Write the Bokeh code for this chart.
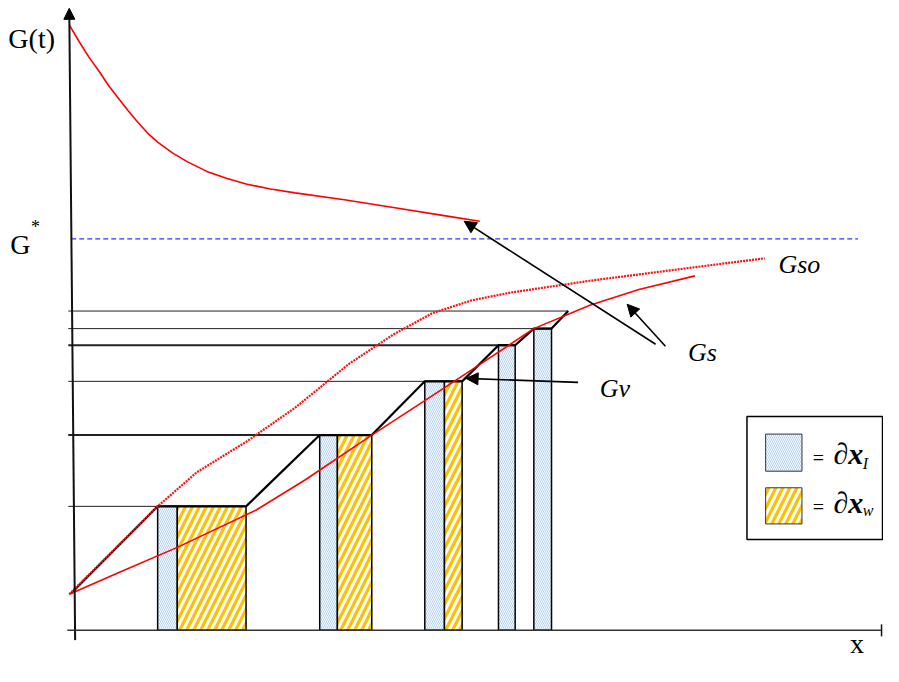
from bokeh.plotting import figure
from bokeh.models import Range1d, Arrow, NormalHead, TeeHead, ColumnDataSource
from bokeh.core.properties import value
from bokeh.embed import file_html
from bokeh.resources import INLINE

# ---------------- data (abstract diagram units: x to the right, G upward) ----------------
# decreasing curve Gs (top)
gs_x = [-5, 5, 15, 25, 35, 45, 55, 65, 75, 85, 100, 115, 135, 155, 175, 200, 225, 275, 325, 375, 413]
gs_y = [620, 603, 587, 573, 558, 545, 532, 520, 509, 500, 489, 480, 470, 463, 457, 452, 448, 441, 433, 425, 419]
# dotted curve Gso
gso_x = [-5, 40, 85, 125, 175, 225, 280, 325, 365, 405, 445, 525, 625, 703]
gso_y = [37, 82, 127, 162, 193, 228, 273, 303, 325, 338, 346, 358, 371, 381]
# solid increasing curve (lower)
gv_x = [-5, 45, 105, 185, 235, 303, 355, 405, 468, 525, 575, 632]
gv_y = [37, 59, 85, 123, 154, 200, 234, 267, 309, 333, 349, 363]
# G* level
g_star = 401
g_star_x = [-3, 798]

# step levels and their right ends
levels = [127, 200, 255, 292, 309, 327]
level_ends = [175, 303, 395, 449, 486, 503]
level_widths = [1, 2, 1, 2, 1, 1]

# staircase polyline
stair_x = [-3, 85, 175, 250, 303, 357, 395, 432, 449, 468, 486, 503]
stair_y = [38, 127, 127, 200, 200, 255, 255, 292, 292, 309, 309, 327]

# bars dx_I (blue) and dx_w (yellow)
blue_left = [85, 250, 357, 432, 468]
blue_right = [105, 268, 377, 449, 486]
blue_top = [127, 200, 255, 292, 309]
yel_left = [105, 268, 377]
yel_right = [175, 303, 395]
yel_top = [127, 200, 255]

# annotation arrows
arr_x0 = [592, 602, 513]
arr_y0 = [293, 291, 254]
arr_x1 = [397, 563, 399]
arr_y1 = [419, 334, 258]

# ---------------- figure ----------------
p = figure(width=883, height=666, x_range=Range1d(-75, 824), y_range=Range1d(-37, 645),
           output_backend="svg", toolbar_location=None, min_border=0)
p.xaxis.visible = False
p.yaxis.visible = False
p.grid.visible = False
p.outline_line_color = None
p.background_fill_color = "white"

SERIF = value("Liberation Serif")
BLUE_HATCH = dict(hatch_pattern="\\", hatch_color="#B0D0EE", hatch_scale=4, hatch_weight=1)
YEL_HATCH = dict(hatch_pattern="/", hatch_color="#FFC000", hatch_scale=14, hatch_weight=3.2)

# bars
p.quad(left=blue_left, right=blue_right, bottom=0, top=blue_top,
       fill_color="white", line_color="black", line_width=1.5, **BLUE_HATCH)
p.quad(left=yel_left, right=yel_right, bottom=0, top=yel_top,
       fill_color="white", line_color="black", line_width=1.5, **YEL_HATCH)

# horizontal level lines
for lv, le, lw in zip(levels, level_ends, level_widths):
    p.line([-6, le], [lv, lv], line_color="#222222", line_width=lw)

# staircase
p.line(stair_x, stair_y, line_color="black", line_width=2.2)

# G* dashed line
p.line(g_star_x, [g_star, g_star], line_color="#3333FF", line_width=1.2, line_dash="5 3")

# curves
p.line(gs_x, gs_y, line_color="#FF0000", line_width=1.6)
p.line(gso_x, gso_y, line_color="#FF1010", line_width=2.2, line_dash="2 1")
p.line(gv_x, gv_y, line_color="#FF0000", line_width=1.6)

# axes
p.add_layout(Arrow(end=NormalHead(size=11, fill_color="black", line_color="black"),
                   x_start=1, y_start=-10, x_end=-5, y_end=637, line_width=2, line_color="#111111"))
p.add_layout(Arrow(end=TeeHead(size=12, line_color="#111111", line_width=1.5),
                   x_start=-7, y_start=0, x_end=822, y_end=0, line_width=1.5, line_color="#333333"))

# annotation arrows
asrc = ColumnDataSource(dict(x0=arr_x0, y0=arr_y0, x1=arr_x1, y1=arr_y1))
p.add_layout(Arrow(end=NormalHead(size=12, fill_color="black", line_color="black"),
                   x_start="x0", y_start="y0", x_end="x1", y_end="y1",
                   source=asrc, line_width=1.6, line_color="black"))

# axis labels
p.text(x=[-67], y=[606], text=["G(t)"], text_font=SERIF, text_font_size="28px",
       text_baseline="alphabetic", text_color="black")
p.text(x=[-65], y=[395], text=["G"], text_font=SERIF, text_font_size="28px",
       text_baseline="alphabetic", text_color="black")
p.text(x=[-44], y=[413], text=["*"], text_font=SERIF, text_font_size="18px",
       text_baseline="alphabetic", text_color="black")
p.text(x=[790], y=[-13], text=["x"], text_font=SERIF, text_font_size="28px",
       text_baseline="alphabetic", text_color="black")

# curve labels
p.text(x=[717, 625, 535], y=[375, 285, 248], text=["Gso", "Gs", "Gv"], text_font=SERIF,
       text_font_size="26px", text_font_style="italic", text_baseline="alphabetic",
       text_color="black")

# legend box
p.quad(left=[685], right=[823], bottom=[93], top=[219], fill_color="white",
       line_color="black", line_width=1.5)
p.quad(left=[704], right=[741], bottom=[163], top=[201], fill_color="white",
       line_color="#333333", line_width=1, **BLUE_HATCH)
p.quad(left=[704], right=[741], bottom=[109], top=[146], fill_color="white",
       line_color="#333333", line_width=1, **YEL_HATCH)
p.text(x=[752, 752], y=[176, 126], text=["=", "="], text_font=SERIF, text_font_size="20px",
       text_baseline="alphabetic", text_color="black")
p.text(x=[773, 773], y=[181, 131], text=["\u2202x", "\u2202x"], text_font=SERIF,
       text_font_size="30px", text_font_style="bold italic", text_baseline="alphabetic",
       text_color="black")
p.text(x=[803, 803], y=[171, 123], text=["I", "w"], text_font=SERIF,
       text_font_size="16px", text_font_style="italic", text_baseline="alphabetic",
       text_color="black")

open("out.html", "w").write(file_html(p, INLINE))
